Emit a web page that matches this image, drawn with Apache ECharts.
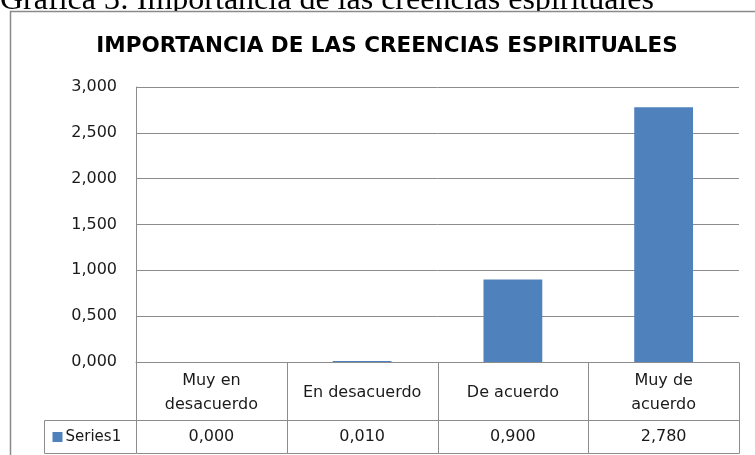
<!DOCTYPE html>
<html>
<head>
<meta charset="utf-8">
<script src="https://cdn.jsdelivr.net/npm/echarts@6/dist/echarts.min.js"></script>
<style>
html,body{margin:0;padding:0;background:#fff;}
#chart{width:755px;height:455px;}
</style>
</head>
<body>
<div id="chart"></div>
<script>
// ---- data ----
var caption = 'Gráfica 3: Importancia de las creencias espirituales';
var chartTitle = 'IMPORTANCIA DE LAS CREENCIAS ESPIRITUALES';
var categories = ['Muy en\ndesacuerdo', 'En desacuerdo', 'De acuerdo', 'Muy de\nacuerdo'];
var seriesName = 'Series1';
var values = [0.000, 0.010, 0.900, 2.780];
var yMin = 0, yMax = 3, yStep = 0.5;

// ---- style ----
var BAR = '#4F81BD';
var GRID = '#8c8c8c';
var TXT = '#1a1a1a';
var FONT = 'DejaVu Sans';
var TFONT = '16px "' + FONT + '"';
var HEADER_H = 58;
var LEGEND_W = 92;

function fmt(v) { return v.toFixed(3).replace('.', ','); }

var chart = echarts.init(document.getElementById('chart'), null, {renderer: 'canvas'});

var option = {
  animation: false,
  backgroundColor: '#fff',
  grid: [
    {left: 136, top: 87, width: 603, height: 275},
    {left: 136, top: 362, width: 603, height: 91}
  ],
  xAxis: [
    {type: 'category', gridIndex: 0, data: categories,
     axisLine: {show: true, lineStyle: {color: GRID, width: 1}},
     axisTick: {show: false}, axisLabel: {show: false}, splitLine: {show: false}},
    {type: 'category', gridIndex: 1, data: categories, show: false}
  ],
  yAxis: [
    {type: 'value', gridIndex: 0, min: yMin, max: yMax, interval: yStep,
     axisLine: {show: true, lineStyle: {color: GRID, width: 1}},
     axisTick: {show: false},
     axisLabel: {formatter: fmt, margin: 19, color: TXT, fontFamily: FONT, fontSize: 16},
     splitLine: {show: true, lineStyle: {color: GRID, width: 1}}},
    {type: 'value', gridIndex: 1, min: 0, max: 1, show: false}
  ],
  series: [
    {type: 'bar', name: seriesName, xAxisIndex: 0, yAxisIndex: 0,
     data: values, barWidth: '39%', itemStyle: {color: BAR}, silent: true},
    {type: 'custom', name: 'table', xAxisIndex: 1, yAxisIndex: 1, silent: true,
     data: values.map(function (v, i) { return [i, v]; }),
     renderItem: function (params, api) {
       var cs = params.coordSys;
       var i = api.value(0);
       var cx = api.coord([i, 0])[0];
       var w = api.size([1, 0])[0];
       var x0 = Math.round(cx - w / 2) + 0.5;
       var x1 = Math.round(cx + w / 2) + 0.5;
       var yTop = cs.y + 0.5;
       var yMid = cs.y + HEADER_H + 0.5;
       var yBot = cs.y + cs.height + 0.5;
       var line = {stroke: GRID, lineWidth: 1};
       var children = [
         {type: 'line', shape: {x1: x0, y1: yTop, x2: x0, y2: yBot}, style: line},
         {type: 'line', shape: {x1: x1, y1: yTop, x2: x1, y2: yBot}, style: line},
         {type: 'line', shape: {x1: x0, y1: yMid, x2: x1, y2: yMid}, style: line},
         {type: 'line', shape: {x1: x0, y1: yBot, x2: x1, y2: yBot}, style: line},
         {type: 'text', style: {text: categories[i], x: cx, y: cs.y + HEADER_H / 2 + 2,
           align: 'center', verticalAlign: 'middle', lineHeight: 24,
           fill: TXT, font: TFONT}},
         {type: 'text', style: {text: fmt(api.value(1)), x: cx, y: (yMid + yBot) / 2,
           align: 'center', verticalAlign: 'middle',
           fill: TXT, font: TFONT}}
       ];
       if (i === 0) {
         var lx = x0 - LEGEND_W;
         children.push(
           {type: 'line', shape: {x1: lx, y1: yMid, x2: x0, y2: yMid}, style: line},
           {type: 'line', shape: {x1: lx, y1: yBot, x2: x0, y2: yBot}, style: line},
           {type: 'line', shape: {x1: lx, y1: yMid, x2: lx, y2: yBot}, style: line},
           {type: 'rect', shape: {x: lx + 8, y: (yMid + yBot) / 2 - 5, width: 10, height: 10},
            style: {fill: BAR}},
           {type: 'text', style: {text: seriesName, x: lx + 21, y: (yMid + yBot) / 2,
             align: 'left', verticalAlign: 'middle', fill: TXT, font: '15px "' + FONT + '"'}}
         );
       }
       return {type: 'group', children: children};
     }}
  ],
  graphic: [
    {type: 'text', z: -20, style: {text: caption, x: 0, y: 17, align: 'left', verticalAlign: 'bottom',
      fill: '#000', font: '32px "Liberation Serif"'}},
    {type: 'rect', z: -10, shape: {x: 10.5, y: 11.5, width: 800, height: 500},
     style: {fill: '#fff', stroke: '#8a8a8a', lineWidth: 1.5}},
    {type: 'text', style: {text: chartTitle, x: 387, y: 46, align: 'center', verticalAlign: 'middle',
      fill: '#000', font: 'bold 21.5px "DejaVu Sans"'}}
  ]
};
chart.setOption(option);
</script>
</body>
</html>
